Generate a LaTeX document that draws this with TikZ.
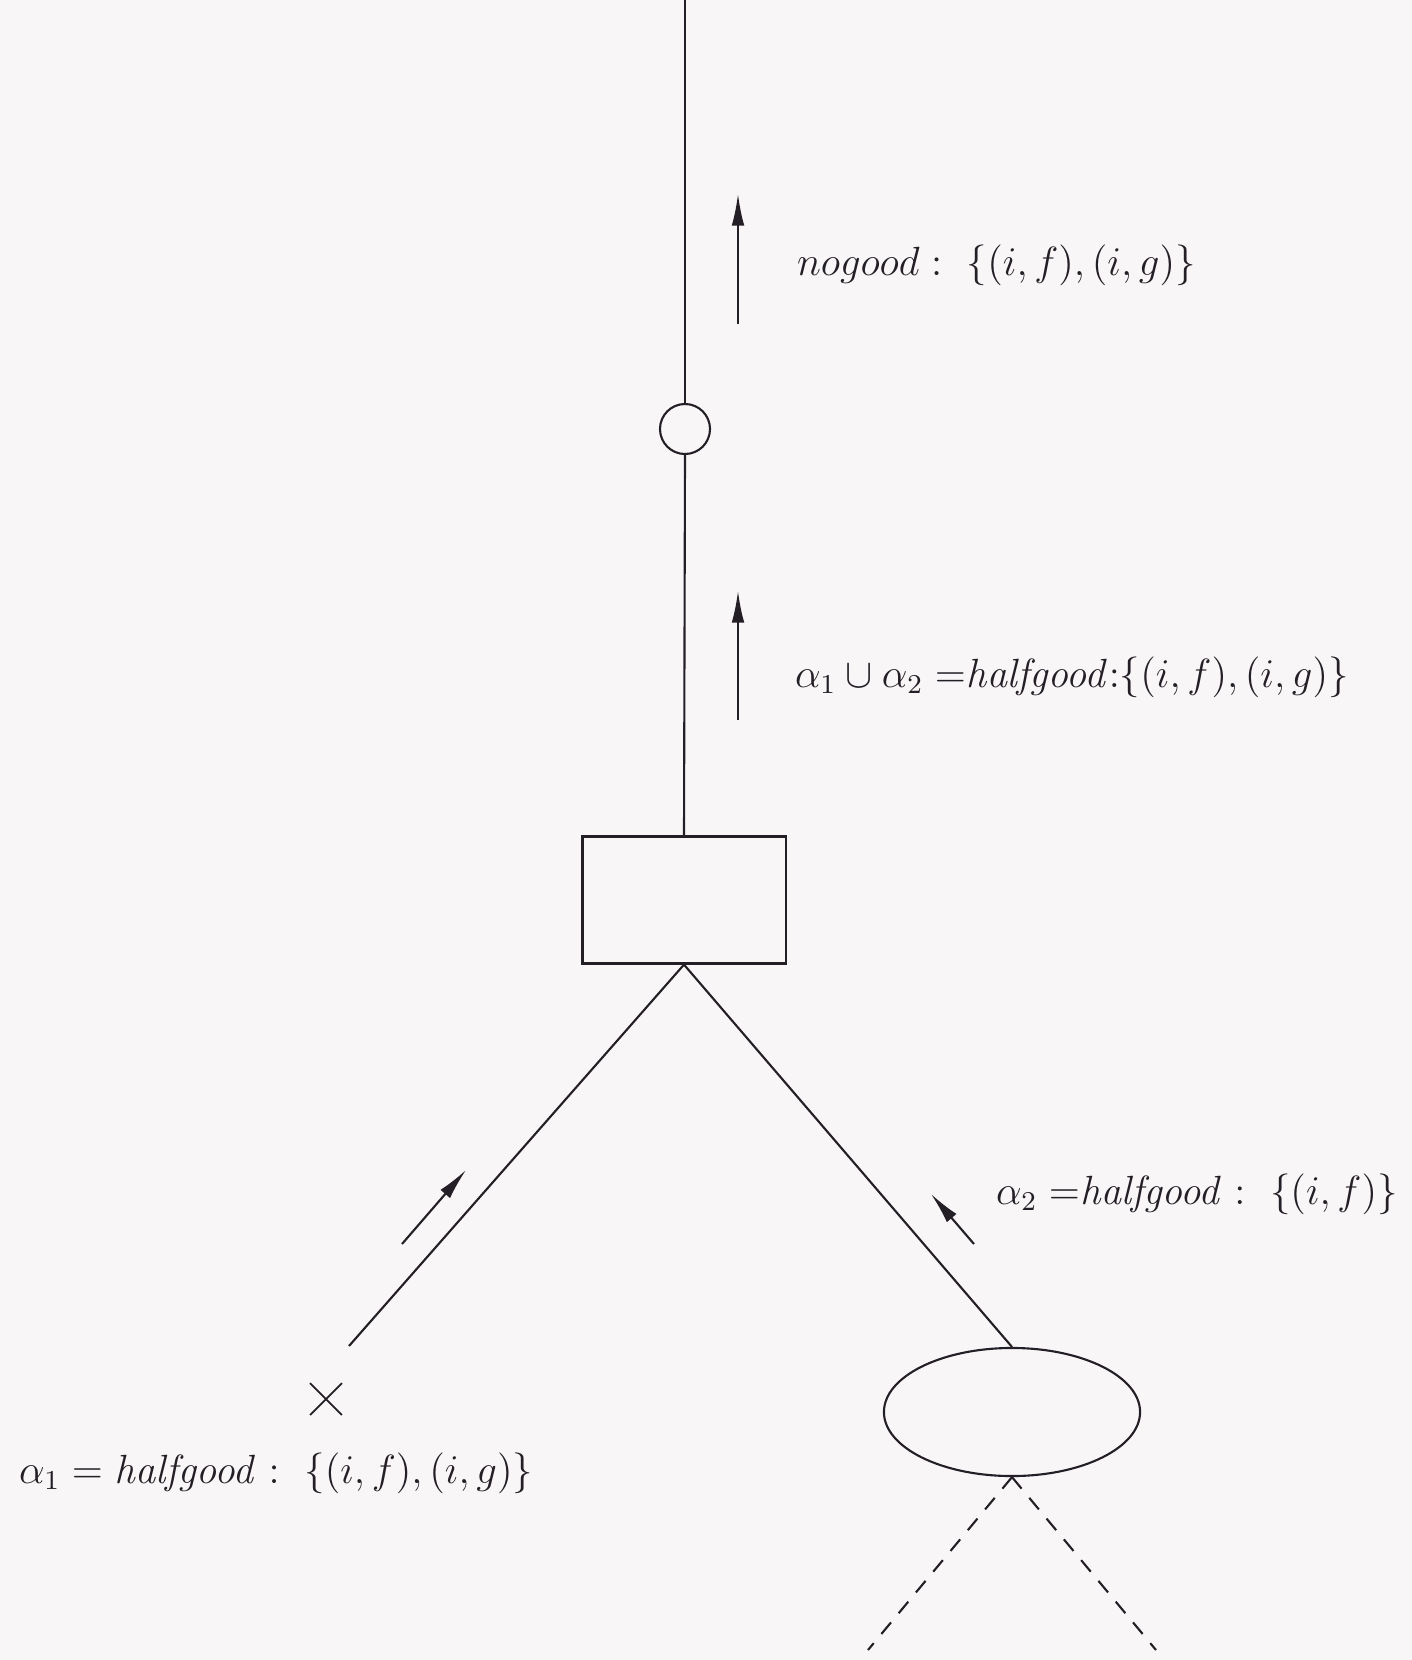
\documentclass[tikz,border=0pt]{standalone}
\usepackage{amsmath}
\usepackage{amssymb}
\usepackage{xcolor}
\definecolor{ScanPaper}{rgb}{0.975, 0.965, 0.97}
\definecolor{ScanInk}{rgb}{0.14, 0.12, 0.15}
\usetikzlibrary{arrows.meta, shapes.geometric, shapes.misc}

\begin{document}
\begin{tikzpicture}[x=0.01cm, y=-0.01cm, line width=0.6pt, color=ScanInk,
    flow/.style={-{Latex[length=9pt, width=3.6pt]}},
    lbl/.style={font=\large, scale=0.967, anchor=west, inner sep=0pt},
    open/.style={dash pattern=on 0.15cm off 0.12cm}]

    % 0. THE PAGE (fixes the margins)
    \fill[ScanPaper] (0,0) rectangle (1412,1660);
    \useasboundingbox (0,0) rectangle (1412,1660);

    % 1. THE NODES OF THE SEARCH TREE
    \coordinate (top) at (685,0);
    \node[draw, circle, minimum size=0.5cm, inner sep=0pt] (ring) at (685,429) {};
    \node[draw, rectangle, minimum width=2.03cm, minimum height=1.27cm, inner sep=0pt] (box) at (684,900) {};
    \node[draw, ellipse, minimum width=2.56cm, minimum height=1.28cm, inner sep=0pt] (leaf) at (1012,1412) {};
    \node[draw, cross out, minimum size=0.3cm, inner sep=0pt, line width=0.5pt] (dead) at (326,1399) {};
    \coordinate (deadend) at (349,1346);
    \coordinate (dashL) at (868,1650);
    \coordinate (dashR) at (1156,1650);

    % 2. THE BRANCHES
    \draw (top) -- (ring.north);
    \draw (ring.south) -- (box.north);
    \draw (box.south) -- (deadend);
    \draw (box.south) -- (leaf.north);
    \draw[open] (leaf.south) -- (dashL);
    \draw[open] (leaf.south) -- (dashR);

    % 3. PROPAGATION (arrows beside the branches)
    \coordinate (upA) at (738,324);  \coordinate (upAtip) at (738,194);
    \coordinate (upB) at (738,720);  \coordinate (upBtip) at (738,591);
    \coordinate (inL) at (402,1244); \coordinate (inLtip) at (466,1170);
    \coordinate (inR) at (974,1244); \coordinate (inRtip) at (931,1194);
    \draw[flow] (upA) -- (upAtip);
    \draw[flow] (upB) -- (upBtip);
    \draw[flow] (inL) -- (inLtip);
    \draw[flow] (inR) -- (inRtip);

    % 4. THE LABELS
    \node[lbl] (nogood) at (796,265) {$nogood :\ \{(i,f),(i,g)\}$};
    \node[lbl] (union) at (794,677) {$\alpha_1\cup\alpha_2\;{=}\mathit{halfgood}{:}\{(i,f),(i,g)\}$};
    \node[lbl] (right) at (995,1194) {$\alpha_2\;{=}\mathit{halfgood} :\ \{(i,f)\}$};
    \node[lbl] (left) at (18,1473) {$\alpha_1 = \mathit{halfgood} :\ \{(i,f),(i,g)\}$};

\end{tikzpicture}
\end{document}
